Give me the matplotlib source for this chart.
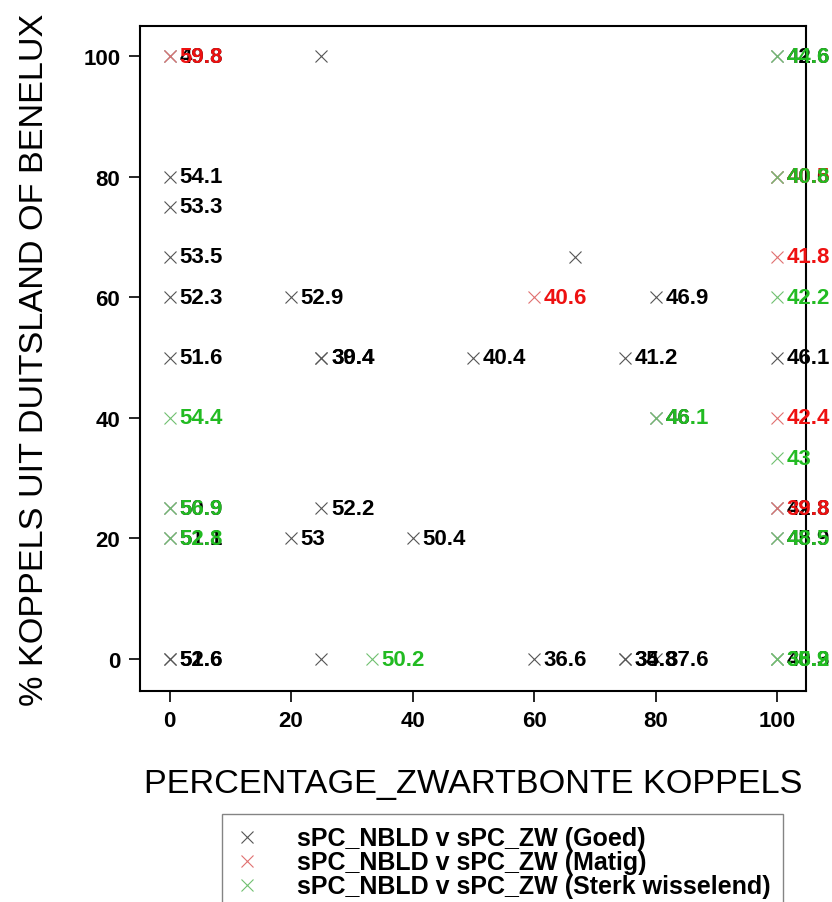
import matplotlib.pyplot as plt

plt.rcParams['font.family'] = ['Liberation Sans', 'DejaVu Sans']

# Goed
goed_x = [0, 25, 0, 0, 0, 0, 20, 0, 25, 25, 50, 75, 100, 80, 100, 0, 0, 25, 20, 40, 0, 0, 25, 60, 75, 75, 80, 100, 100, 100, 80, 66.7, 100]
goed_y = [100, 100, 80, 75, 66.7, 60, 60, 50, 50, 50, 50, 50, 50, 60, 25, 25, 20, 25, 20, 20, 0, 0, 0, 0, 0, 0, 0, 20, 0, 100, 40, 66.7, 80]
goed_lab = ["49.8", "", "54.1", "53.3", "53.5", "52.3", "52.9", "51.6", "30.4", "39.4", "40.4", "41.2", "46.1", "46.9", "42.8", "50.9", "51.1", "52.2", "53", "50.4", "51.6", "52.6", "", "36.6", "35.3", "34.8", "37.6", "45.9", "40.3", "42.6", "46", "", "40.6"]

# Matig
matig_x = [0, 60, 100, 100, 100, 100]
matig_y = [100, 60, 80, 66.7, 40, 25]
matig_lab = ["59.8", "40.6", "40.5", "41.8", "42.4", "39.8"]

# Sterk wisselend
sterk_x = [0, 80, 100, 0, 0, 33.3, 100, 100, 100, 100, 100, 100]
sterk_y = [40, 40, 33.3, 25, 20, 0, 100, 80, 60, 20, 0, 0]
sterk_lab = ["54.4", "46.1", "43", "56.9", "52.8", "50.2", "44.6", "40.8", "42.2", "48.5", "35.2", "38.9"]

series = [
    ("sPC_NBLD v sPC_ZW (Goed)", goed_x, goed_y, goed_lab, "#555555", "black"),
    ("sPC_NBLD v sPC_ZW (Matig)", matig_x, matig_y, matig_lab, "#e07070", "#ee1111"),
    ("sPC_NBLD v sPC_ZW (Sterk wisselend)", sterk_x, sterk_y, sterk_lab, "#70c070", "#22bb22"),
]

fig = plt.figure(figsize=(8.32, 9.03), dpi=100)
ax = fig.add_axes([0.168, 0.2337, 0.801, 0.7363])

for name, xs, ys, labs, mcol, tcol in series:
    ax.plot(xs, ys, linestyle="none", marker="x", markersize=9, markeredgewidth=0.8,
            color=mcol, label=name, clip_on=False)

for name, xs, ys, labs, mcol, tcol in series:
    for x, y, t in zip(xs, ys, labs):
        if t:
            ax.annotate(t, (x, y), xytext=(7, 0), textcoords="offset points",
                        va="center", ha="left", fontsize=16, fontweight="bold",
                        color=tcol, annotation_clip=False)

ax.set_xlim(-4.9, 104.8)
ax.set_ylim(-5.3, 105)
ax.set_xticks([0, 20, 40, 60, 80, 100])
ax.set_yticks([0, 20, 40, 60, 80, 100])
ax.tick_params(labelsize=16, length=8, width=1.2, pad=6)
for lbl in ax.get_xticklabels() + ax.get_yticklabels():
    lbl.set_fontweight("bold")
for s in ax.spines.values():
    s.set_linewidth(1.5)

ax.set_xlabel("PERCENTAGE_ZWARTBONTE KOPPELS", fontsize=24.7, labelpad=26)
ax.set_ylabel("% KOPPELS UIT DUITSLAND OF BENELUX", fontsize=24.7, labelpad=24)

leg = fig.legend(loc="upper left", bbox_to_anchor=(0.267, 0.0975), fontsize=18,
                 frameon=True, fancybox=False, edgecolor="#666666",
                 handlelength=1.0, handletextpad=1.5, labelspacing=0.0,
                 borderpad=0.5, borderaxespad=0)
leg.get_frame().set_linewidth(1.0)
for t in leg.get_texts():
    t.set_fontweight("bold")

fig.savefig("out.png", dpi=100)
